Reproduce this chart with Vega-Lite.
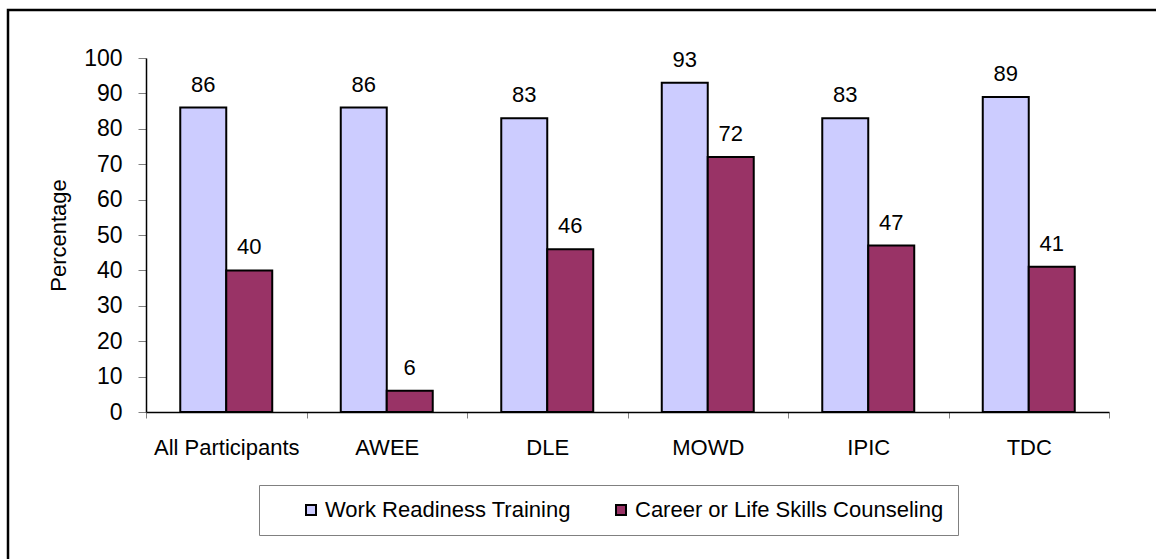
{
  "$schema": "https://vega.github.io/schema/vega-lite/v6.json",
  "autosize": "none",
  "width": 1170,
  "height": 570,
  "padding": {"left": 8, "top": 10, "right": 0, "bottom": 0},
  "background": "white",
  "config": {
    "view": {"stroke": "black", "strokeWidth": 2.5},
    "font": "Liberation Sans"
  },
  "data": {
    "values": [
      {"site": "All Participants", "series": "Work Readiness Training", "pct": 86},
      {"site": "All Participants", "series": "Career or Life Skills Counseling", "pct": 40},
      {"site": "AWEE", "series": "Work Readiness Training", "pct": 86},
      {"site": "AWEE", "series": "Career or Life Skills Counseling", "pct": 6},
      {"site": "DLE", "series": "Work Readiness Training", "pct": 83},
      {"site": "DLE", "series": "Career or Life Skills Counseling", "pct": 46},
      {"site": "MOWD", "series": "Work Readiness Training", "pct": 93},
      {"site": "MOWD", "series": "Career or Life Skills Counseling", "pct": 72},
      {"site": "IPIC", "series": "Work Readiness Training", "pct": 83},
      {"site": "IPIC", "series": "Career or Life Skills Counseling", "pct": 47},
      {"site": "TDC", "series": "Work Readiness Training", "pct": 89},
      {"site": "TDC", "series": "Career or Life Skills Counseling", "pct": 41}
    ]
  },
  "encoding": {
    "x": {
      "field": "site",
      "type": "nominal",
      "sort": ["All Participants", "AWEE", "DLE", "MOWD", "IPIC", "TDC"],
      "scale": {"range": [138, 1101], "paddingInner": 0, "paddingOuter": 0},
      "axis": {
        "title": null,
        "orient": "bottom",
        "offset": -168,
        "labelAngle": 0,
        "labelFontSize": 22,
        "labelColor": "black",
        "labelPadding": 19,
        "tickBand": "extent",
        "tickSize": 6,
        "tickColor": "#808080",
        "domainColor": "black",
        "domainWidth": 1.5
      }
    },
    "xOffset": {
      "field": "series",
      "sort": ["Work Readiness Training", "Career or Life Skills Counseling"],
      "scale": {"paddingInner": 0, "paddingOuter": 0.745}
    },
    "y": {
      "field": "pct",
      "type": "quantitative",
      "scale": {"domain": [0, 100], "range": [402, 48], "nice": false, "zero": true},
      "axis": {
        "title": "Percentage",
        "titleFontSize": 22,
        "titleFontWeight": "normal",
        "titleColor": "black",
        "titleAngle": 270,
        "titleX": -88,
        "titleY": 225,
        "titleAlign": "center",
        "titleBaseline": "middle",
        "offset": -138,
        "values": [0, 10, 20, 30, 40, 50, 60, 70, 80, 90, 100],
        "grid": false,
        "labelFontSize": 23,
        "labelColor": "black",
        "labelPadding": 16,
        "tickSize": 8,
        "tickColor": "#808080",
        "domainColor": "black",
        "domainWidth": 1.5
      }
    }
  },
  "layer": [
    {
      "mark": {"type": "bar", "stroke": "black", "strokeWidth": 2},
      "encoding": {
        "color": {
          "field": "series",
          "type": "nominal",
          "scale": {
            "domain": ["Work Readiness Training", "Career or Life Skills Counseling"],
            "range": ["#CCCCFF", "#993366"]
          },
          "legend": {
            "title": null,
            "orient": "none",
            "direction": "horizontal",
            "legendX": 251,
            "legendY": 475,
            "strokeColor": "#808080",
            "padding": 14,
            "symbolType": "square",
            "symbolSize": 100,
            "symbolStrokeColor": "black",
            "symbolStrokeWidth": 2,
            "symbolOpacity": 1,
            "symbolOffset": 27,
            "labelOffset": 3,
            "columnPadding": 12,
            "labelFontSize": 22,
            "labelColor": "black",
            "labelLimit": 500
          }
        }
      }
    },
    {
      "mark": {"type": "text", "dy": -16, "baseline": "alphabetic", "fontSize": 22, "color": "black"},
      "encoding": {"text": {"field": "pct", "type": "quantitative"}}
    }
  ]
}
